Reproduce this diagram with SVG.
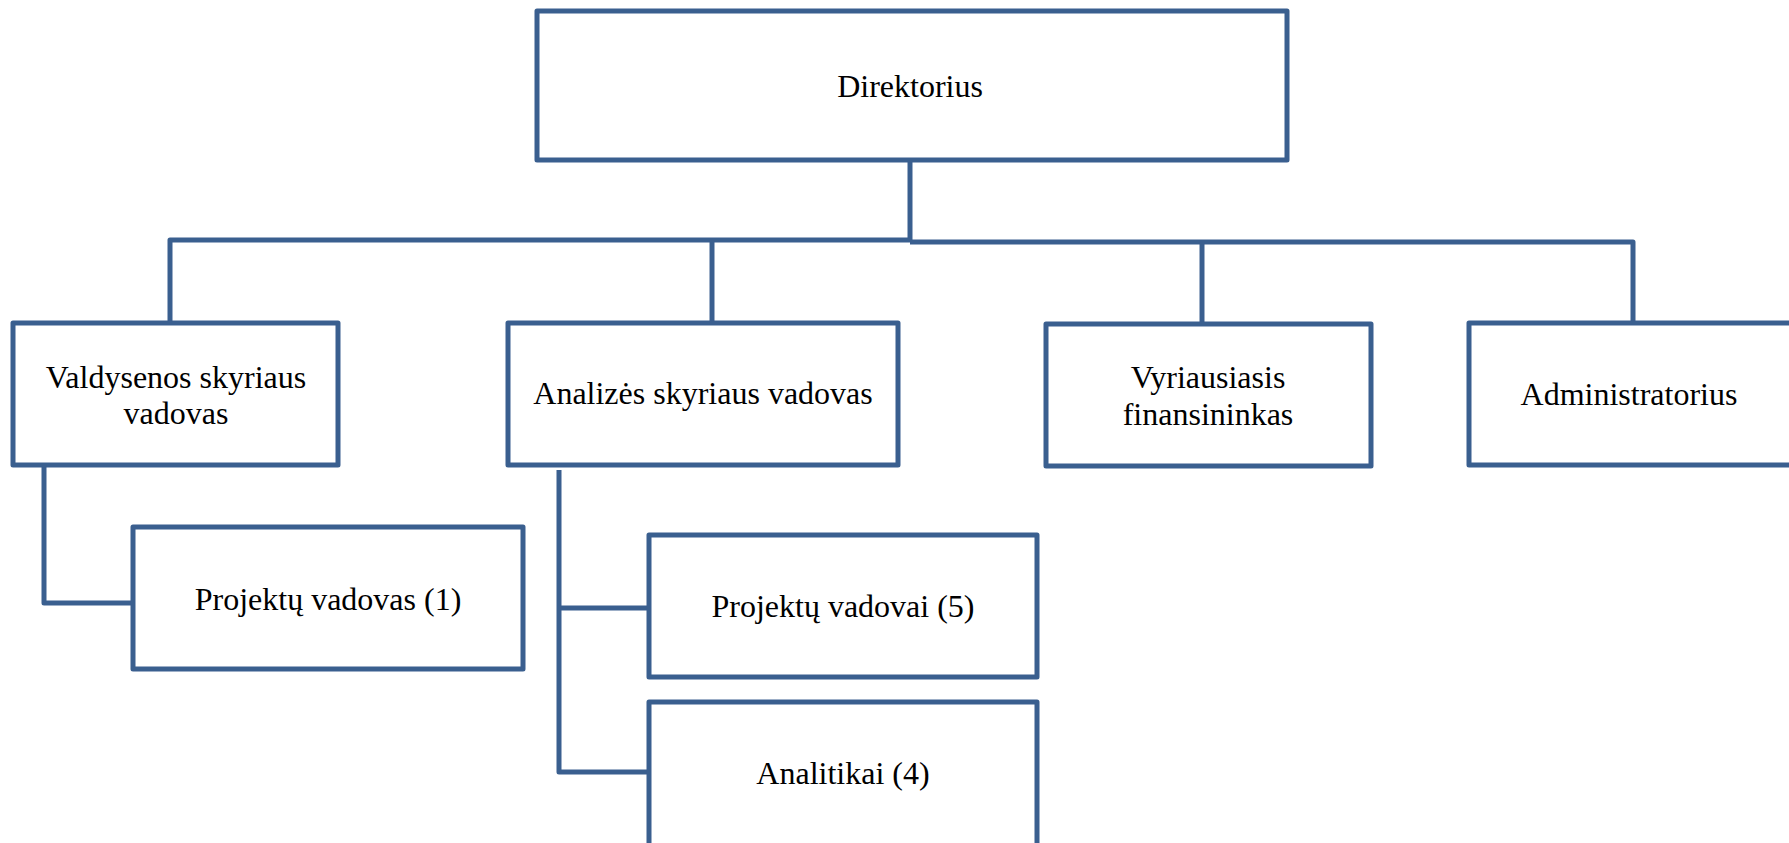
<svg xmlns="http://www.w3.org/2000/svg" width="1789" height="843" viewBox="0 0 1789 843">
<style>
.box{fill:#fff;stroke:#3A5F8F;stroke-width:5;stroke-linejoin:round}
.ln{fill:none;stroke:#3A5F8F;stroke-width:5;stroke-linejoin:round}
text{font-family:"Liberation Serif","Times New Roman",serif;font-size:32px;fill:#000;text-anchor:middle}
</style>
<rect width="1789" height="843" fill="#fff"/>
<g id="connectors">
<path class="ln" d="M910 160 V241"/>
<path class="ln" d="M170 323 V240 H910"/>
<path class="ln" d="M910 242 H1633 V323"/>
<path class="ln" d="M712 240 V323"/>
<path class="ln" d="M1202 242 V323"/>
<path class="ln" d="M44 465 V603 H133"/>
<path class="ln" d="M559 470 V772 H649"/>
<path class="ln" d="M559 608 H649"/>
</g>
<g id="direktorius">
<rect class="box" x="537" y="11" width="750" height="149"/>
<text x="910" y="97">Direktorius</text>
</g>
<g id="valdysenos">
<rect class="box" x="13" y="323" width="325" height="142"/>
<text x="176" y="388">Valdysenos skyriaus</text>
<text x="176" y="424">vadovas</text>
</g>
<g id="analizes">
<rect class="box" x="508" y="323" width="390" height="142"/>
<text x="703" y="404">Analizės skyriaus vadovas</text>
</g>
<g id="finansininkas">
<rect class="box" x="1046" y="324" width="325" height="142"/>
<text x="1208" y="388">Vyriausiasis</text>
<text x="1208" y="425">finansininkas</text>
</g>
<g id="administratorius">
<rect class="box" x="1469" y="323" width="330" height="142"/>
<text x="1629" y="405">Administratorius</text>
</g>
<g id="projektu1">
<rect class="box" x="133" y="527" width="390" height="142"/>
<text x="328" y="610">Projektų vadovas (1)</text>
</g>
<g id="projektu5">
<rect class="box" x="649" y="535" width="388" height="142"/>
<text x="843" y="617">Projektų vadovai (5)</text>
</g>
<g id="analitikai">
<rect class="box" x="649" y="702" width="388" height="150"/>
<text x="843" y="784">Analitikai (4)</text>
</g>
</svg>
